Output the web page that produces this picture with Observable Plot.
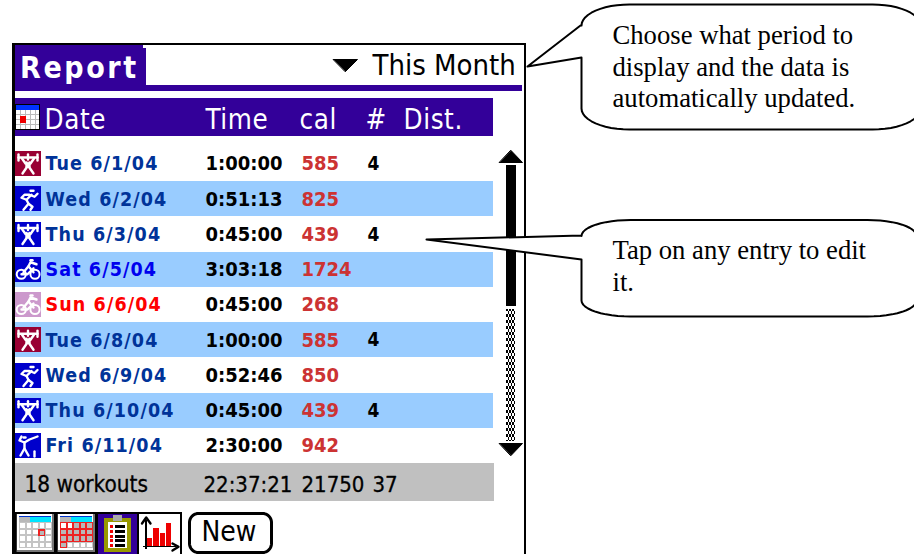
<!DOCTYPE html>
<html><head><meta charset="utf-8">
<script src="https://cdn.jsdelivr.net/npm/d3@7"></script>
<script src="https://cdn.jsdelivr.net/npm/@observablehq/plot@0.6"></script>
<style>
html,body{margin:0;padding:0;background:#fff;overflow:hidden}
svg{display:block}
.sp1 text{letter-spacing:.6px}
.sp2 text{letter-spacing:1.1px}
.sp3 text{letter-spacing:2.6px}
</style></head><body><div id="c"></div>
<script>
// ---- data ----
const dates = ["Tue 6/1/04","Wed 6/2/04","Thu 6/3/04","Sat 6/5/04","Sun 6/6/04","Tue 6/8/04","Wed 6/9/04","Thu 6/10/04","Fri 6/11/04"];
const times = ["1:00:00","0:51:13","0:45:00","3:03:18","0:45:00","1:00:00","0:52:46","0:45:00","2:30:00"];
const calories = ["585","825","439","1724","268","585","850","439","942"];
const counts = ["4","","4","","","4","","4",""];
const kinds = ["weights","run","weights","bike","bike","weights","run","weights","golf"];
const states = ["past","normal","normal","bright","missed","past","normal","normal","normal"];
const headers = ["Date","Time","cal","#","Dist."];
const totals = ["18 workouts","22:37:21","21750","37"];
const callout1 = ["Choose what period to","display and the data is","automatically updated."];
const callout2 = ["Tap on any entry to edit","it."];
const miniBars = [8,18,13,23];

// ---- layout & style ----
const PURPLE="#330099", BLUE="#99ccff", GREY="#c0c0c0";
const iconFill={past:"#990033",normal:"#0000cc",bright:"#0000cc",missed:"#cc99cc"};
const dateFill={past:"#003399",normal:"#003399",bright:"#0000ee",missed:"#ff0000"};
const rowY=i=>163.5+35.25*i;
const rows=dates.map((date,i)=>({i,date,time:times[i],cal:calories[i],n:counts[i],kind:kinds[i],state:states[i]}));

const R=[]; const box=(x1,y1,x2,y2,fill)=>R.push({x1,y1,x2,y2,fill});
// frame
box(12,43,526,554,"#000"); box(14.5,45,523.5,554,"#fff");
// title tab
box(14.5,45,143,85,PURPLE); box(143,48,146,85,PURPLE); box(14.5,85,522,91,PURPLE);
box(14.5,97.5,493,136,PURPLE);
// zebra
rows.filter(d=>d.i%2).forEach(d=>box(14.5,rowY(d.i)-17.6,493,rowY(d.i)+17.6,BLUE));
// total bar
box(14.5,463,494,501,GREY);
// row icons
rows.forEach(d=>box(15,rowY(d.i)-12.5,40.5,rowY(d.i)+12.5,iconFill[d.state]));
// header calendar icon
box(15,104,40,130,"#000"); box(16,105,39,129,"#fff"); box(16,105,39,110,"#0033ff");
for(let x=20;x<39;x+=5) box(x,110,x+1,129,"#bbb");
for(let y=114;y<129;y+=5) box(16,y,39,y+1,"#bbb");
box(20,116,26,123,"#ee0000");
// scroll bar
box(506,165,515.5,306,"#000");
for(let y=309;y<440;y+=3) for(let k=0;k<3;k++) box(506+k*3+((y-309)/3%2)*1.5,y,507.5+k*3+((y-309)/3%2)*1.5,y+1.5,"#000"),box(507.5+k*3-((y-309)/3%2)*1.5,y+1.5,509+k*3-((y-309)/3%2)*1.5,y+3,"#000");
// toolbar
box(13,512,182,554,"#000");
function calIcon(x0,red){
  box(x0,514,x0+38,552,"#fff"); box(x0+36,514,x0+38,552,"#777"); box(x0,550,x0+38,552,"#777"); box(x0,514,x0+1,552,"#333");
  box(x0+3,516,x0+35,517,"#0033cc");
  box(x0+3,517,x0+14,522,"#b8b8b8"); box(x0+14,517,x0+35,522,"#00e5ff");
  for(let c=0;c<5;c++) for(let r=0;r<4;r++){
    const x=x0+3+c*6.5,y=522+r*6.5;
    const on=red&&!(r===3&&c>0);
    box(x,y,x+6.5,y+6.5,on?"#ee2222":"#c4c4c4");
    box(x+1,y+1,x+5.5,y+5.5,on?(r===0&&c<2?"#fff":"#b8b8b8"):"#fff");
  }
  if(!red){box(x0+22,529,x0+29,536,"#ee2222");box(x0+23.5,530.5,x0+27.5,534.5,"#b8b8b8");}
}
calIcon(16,false); calIcon(57,true);
box(98,514,137,554,PURPLE);
box(104,518,131,552,"#999900"); box(108,522,127,548,"#fff"); box(113,515,122,521,"#aaa");
for(let k=0;k<5;k++){box(110,525+k*4.8,113,528+k*4.8,"#ee0000");box(115,525+k*4.8,125,528+k*4.8,"#000");}
box(139,514,180,554,"#fff");
miniBars.forEach((h,k)=>box(147+k*6.3,546-h,152.3+k*6.3,546,"#ee0000"));
box(145,520,146.5,549,"#000"); box(143,545.5,176,547,"#000");

// polylines helper
const L=[]; let lid=0;
const poly=(pts,stroke)=>{const z=lid++;pts.forEach(([x,y])=>L.push({x,y,z,stroke}));};
const G={
 weights:[[[3,3],[3,9]],[[22,3],[22,9]],[[3,6],[22,6]],[[6.5,7],[10,12],[15,12],[18.5,7]],[[11,11],[11,15],[14,15],[14,11]],[[12.5,14],[7,22]],[[12.5,14],[18,22]],[[12.5,3],[12.5,8]]],
 run:[[[16,8],[11,13],[13,17],[8,23]],[[11,13],[6,11],[9,8],[14,8],[19,10],[22,7]],[[13,17],[17,20],[15,23]],[[15,4],[18,4]]],
 bike:[[[8,15],[13,9],[18,15]],[[13,9],[15,5],[21,7]],[[15,3],[17,3]],[[6,17],[12,17],[18,11]]],
 golf:[[[6,3],[4,7],[9,9],[14,6],[22,3]],[[9,9],[9,15],[5,22]],[[9,15],[13,22]],[[19,18],[19,23]],[[8,4],[10,4]]]
};
rows.forEach(d=>{
  const ox=15,oy=rowY(d.i)-12.5;
  G[d.kind].forEach(p=>poly(p.map(([x,y])=>[ox+x,oy+y]),"#fff"));
});
const rings=[];
rows.filter(d=>d.kind==="bike").forEach(d=>{[5.8,19.5].forEach(x=>rings.push({x:15+x,y:rowY(d.i)-12.5+17}));});

// mini-chart axes arrows
poly([[141.5,523],[145.7,517],[150,523]],"#000");
poly([[172,543],[178,546.2],[172,550]],"#000");

// triangles
const tris=[
 [[333,59],[357,59],[345,71]],
 [[499,162],[522,162],[510.5,150]],
 [[499,443],[522,443],[510.5,455]]
].flatMap((t,k)=>t.map(([x,y])=>({x,y,k})));

// New button & speech bubbles
function corner(cx,cy,rx,ry,a0,a1){return d3.range(0,13).map(k=>{const a=(a0+(a1-a0)*k/12)*Math.PI/180;return [cx+rx*Math.cos(a),cy+ry*Math.sin(a)];});}
function bubble(x1,y1,x2,y2,rx,ry,base1,base2,tip,lx){
  return [tip,[lx,base1],...(base1>y1+ry?[[x1,y1+ry]]:[]),...corner(x1+rx,y1+ry,rx,ry,180,270),...corner(x2-rx,y1+ry,rx,ry,270,360),...corner(x2-rx,y2-ry,rx,ry,0,90),...corner(x1+rx,y2-ry,rx,ry,90,180),[x1,base2],tip];
}
const b1=bubble(581,4,920,129,48,21,25,57,[527,66],580).map(([x,y])=>({x,y}));
const b2=bubble(581,219.5,916,316,49,16,235,259,[426,239],581).map(([x,y])=>({x,y}));
const newBtn=[...corner(198,522,9,9,180,270),...corner(262,522,9,9,270,360),...corner(262,543,9,9,0,90),...corner(198,543,9,9,90,180),[189,522]].map(([x,y])=>({x,y}));

const sans="'DejaVu Sans Condensed','DejaVu Sans'";
const txt=(data,opt)=>Plot.text(data,{textAnchor:"start",lineAnchor:"middle",fontFamily:sans,...opt});
const serif={textAnchor:"start",lineAnchor:"middle",fontFamily:"'Liberation Serif'",fontSize:26.67,fill:"#000"};

const headerX=[44,205,299,365,403];

const chart=Plot.plot({
  width:914,height:554,margin:0,
  x:{domain:[0,914],range:[0,914],axis:null},
  y:{domain:[0,554],range:[0,554],axis:null},
  color:{type:"identity"},
  marks:[
    Plot.rect(R,{x1:"x1",y1:"y1",x2:"x2",y2:"y2",fill:"fill",shapeRendering:"crispEdges"}),
    Plot.line(tris,{x:"x",y:"y",z:"k",fill:"#000",stroke:"#000",strokeWidth:1,curve:"linear-closed"}),
    Plot.line(L,{x:"x",y:"y",z:"z",stroke:"stroke",strokeWidth:2.4,strokeLinecap:"round",strokeLinejoin:"round"}),
    Plot.dot(rings,{x:"x",y:"y",r:4.6,stroke:"#fff",strokeWidth:2,fill:"none"}),
    // title
    txt(["Report"],{x:19.5,y:68,text:d=>d,fill:"#fff",fontSize:30,fontWeight:"bold",className:"sp3"}),
    txt(["This Month"],{x:372,y:65,text:d=>d,fill:"#000",fontSize:29}),
    // header
    txt(headers,{x:(d,i)=>headerX[i],y:120,text:d=>d,fill:"#fff",fontSize:27.5,className:"sp1"}),
    // rows
    txt(rows,{x:45,y:d=>rowY(d.i),text:"date",fill:d=>dateFill[d.state],fontSize:19.5,fontWeight:"bold",className:"sp2"}),
    txt(rows,{x:205,y:d=>rowY(d.i),text:"time",fill:"#000",fontSize:20,fontWeight:"bold"}),
    txt(rows,{x:301,y:d=>rowY(d.i),text:"cal",fill:"#cc3333",fontSize:20,fontWeight:"bold"}),
    txt(rows,{x:367,y:d=>rowY(d.i),text:"n",fill:"#000",fontSize:19,fontWeight:"bold"}),
    // totals
    txt([totals[0]],{x:24,y:484,text:d=>d,fill:"#000",stroke:"#000",strokeWidth:.3,fontSize:22.4}),
    txt([totals[1]],{x:203,y:484,text:d=>d,fill:"#000",stroke:"#000",strokeWidth:.3,fontSize:22}),
    txt([totals[2]],{x:301,y:484,text:d=>d,fill:"#000",stroke:"#000",strokeWidth:.3,fontSize:22}),
    txt([totals[3]],{x:372,y:484,text:d=>d,fill:"#000",stroke:"#000",strokeWidth:.3,fontSize:22}),
    // New
    Plot.line(newBtn,{x:"x",y:"y",stroke:"#000",strokeWidth:3,fill:"#fff"}),
    txt(["New"],{x:201,y:532,text:d=>d,fill:"#000",fontSize:28}),
    // bubbles
    Plot.line(b1,{x:"x",y:"y",stroke:"#000",strokeWidth:2,fill:"#fff"}),
    Plot.line(b2,{x:"x",y:"y",stroke:"#000",strokeWidth:2,fill:"#fff"}),
    Plot.text(callout1,{...serif,x:612,y:(d,i)=>35+i*31.5,text:d=>d}),
    Plot.text(callout2,{...serif,x:612,y:(d,i)=>250+i*31.5,text:d=>d})
  ]
});
document.getElementById("c").appendChild(chart);
</script></body></html>
